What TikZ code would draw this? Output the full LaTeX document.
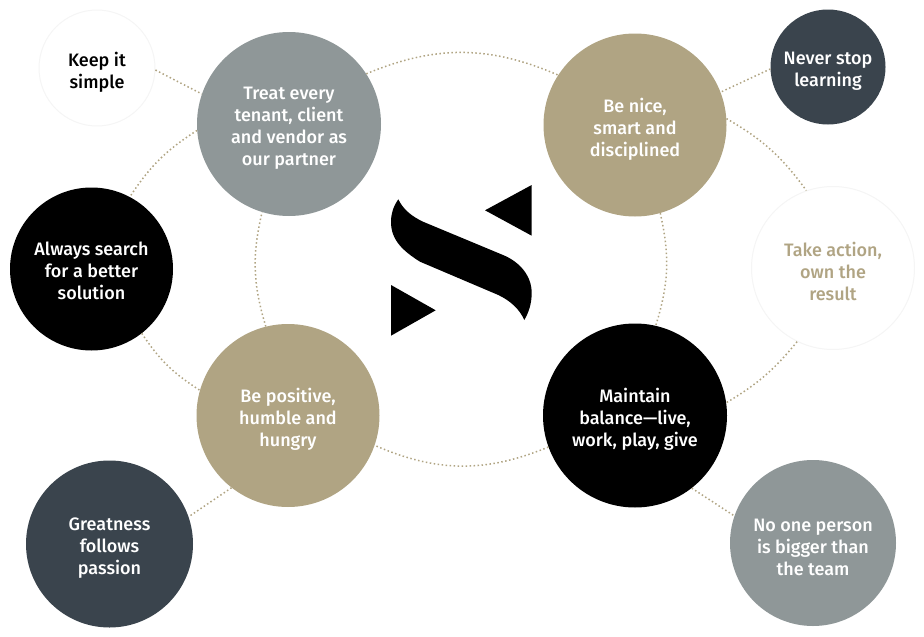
\documentclass[tikz,border=0pt]{standalone}
\usepackage{fontspec}
\setmainfont{Fira Sans Medium}
\definecolor{tan}{HTML}{B0A483}
\definecolor{slate}{HTML}{3A444D}
\definecolor{stone}{HTML}{8F9798}
\tikzset{
  value/.style = {circle, inner sep=0pt},
  caption/.style = {align=center, inner sep=0pt, text=white, yshift=-4pt, font=\fontsize{18}{22}\selectfont},
  pale/.style = {draw=black!4, line width=1pt, fill=white},
  link/.style = {draw=tan, line width=1.5pt, dash pattern=on 1.5pt off 2.5pt}
}
\begin{document}
\begin{tikzpicture}[x=1pt, y=-1pt]
\useasboundingbox (0,0) rectangle (924,637);
% inner ring
\node[value, fill=stone, minimum size=184pt, label={[caption]center:{Treat every\\tenant, client\\and vendor as\\our partner}}](treat) at (289,124){};
\node[value, fill=tan, minimum size=183pt, label={[caption]center:{Be nice,\\smart and\\disciplined}}](nice) at (635,125){};
\node[value, fill=tan, minimum size=183pt, label={[caption]center:{Be positive,\\humble and\\hungry}}](positive) at (288,415.5){};
\node[value, fill=black, minimum size=184pt, label={[caption]center:{Maintain\\balance—live,\\work, play, give}}](maintain) at (635,415.5){};
% outer ring
\node[value, pale, minimum size=116pt, label={[caption, text=black]center:{Keep it\\simple}}](simple) at (97,68){};
\node[value, fill=black, minimum size=163pt, label={[caption, yshift=2pt]center:{Always search\\for a better\\solution}}](search) at (91.5,269){};
\node[value, fill=slate, minimum size=167pt, label={[caption]center:{Greatness\\follows\\passion}}](passion) at (109.5,544){};
\node[value, fill=slate, minimum size=115pt, label={[caption]center:{Never stop\\learning}}](learning) at (828,67){};
\node[value, pale, minimum size=163pt, label={[caption, text=tan, yshift=1pt]center:{Take action,\\own the\\result}}](action) at (833,268){};
\node[value, fill=stone, minimum size=166pt, label={[caption]center:{No one person\\is bigger than\\the team}}](team) at (813,543){};
% logo
\fill (398.3,199.3) .. controls (393,207) and (391,214) .. (391,222) .. controls (391,240) and (403,251) .. (420,261.7) -- (498.3,295) .. controls (511,301) and (520,310) .. (524.3,320) .. controls (529,312) and (531.7,303) .. (531.7,293) .. controls (531.7,276) and (520,262) .. (503,255) -- (423,221.7) .. controls (411,216) and (403,209) .. (398.3,199.3) -- cycle;
\fill (531.7,185) -- (485,210.3) -- (531.7,235.7) -- cycle;
\fill (391,285) -- (435.7,310.3) -- (391,335.7) -- cycle;
% links
\draw[link] (treat.33) to[bend left=23] (nice.147);
\draw[link] (nice.-74) to[bend left=15] (maintain.77);
\draw[link] (maintain.-160) to[bend left=23] (positive.-19);
\draw[link] (positive.104) to[bend left=15] (treat.-107);
\draw[link] (nice.4) to[bend left=12] (action.109);
\draw[link] (action.-116) to[bend left=10] (maintain.8);
\draw[link] (treat.184) to[bend right=12] (search.62);
\draw[link] (search.-52) to[bend right=12] (positive.164);
\draw[link] (simple.-2) -- (treat.161);
\draw[link] (learning.182) -- (nice.21);
\draw[link] (positive.-128) -- (passion.19);
\draw[link] (maintain.-52) -- (team.161);
\end{tikzpicture}
\end{document}
